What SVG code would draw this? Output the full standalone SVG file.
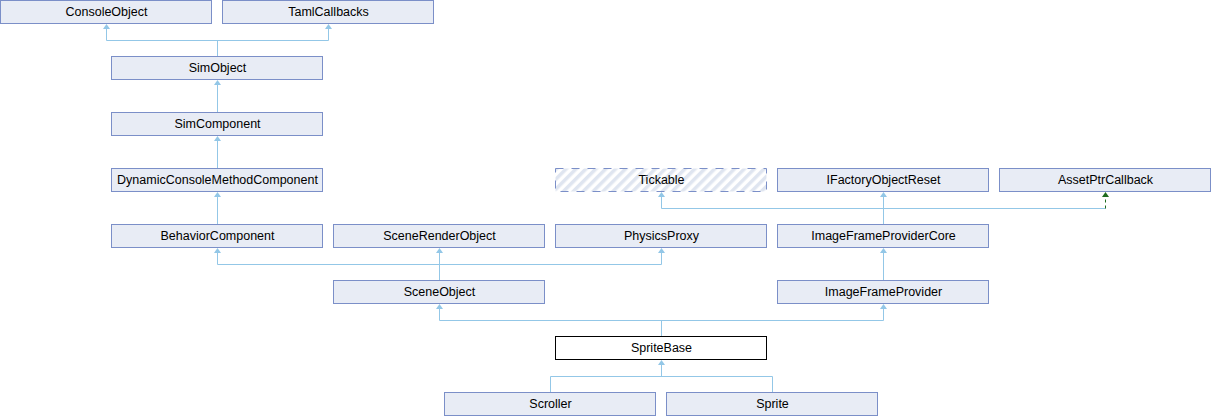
<svg xmlns="http://www.w3.org/2000/svg" width="1211" height="416" viewBox="0 0 1211 416">
<style>
.n rect{fill:#e8ecf5;stroke:#7b8fc8;stroke-width:1}
.n text{font-family:"Liberation Sans",Arial,sans-serif;font-size:12.5px;fill:#000;text-anchor:middle}
#SpriteBase rect{fill:#fff;stroke:#000}
#Tickable rect{fill:url(#hatch);stroke-dasharray:8,8}
.c path{fill:none;stroke:#93c7e7;stroke-width:1}
.c polygon{fill:#93c7e7}
.c .g{stroke:#1e6b1e;stroke-dasharray:3,3}
.c polygon.g{fill:#1e6b1e;stroke:none}
</style>
<defs>
<pattern id="hatch" patternUnits="userSpaceOnUse" width="7" height="7" patternTransform="rotate(45)">
<rect x="0" y="0" width="7" height="7" fill="#fff"/>
<rect x="0" y="0" width="3.5" height="7" fill="#dfe5f0"/>
</pattern>
</defs>
<g id="ConsoleObject" class="n"><rect x="0.5" y="0.5" width="211" height="23"/><text x="106.5" y="15.5">ConsoleObject</text></g>
<g id="TamlCallbacks" class="n"><rect x="222.5" y="0.5" width="211" height="23"/><text x="328.5" y="15.5">TamlCallbacks</text></g>
<g id="SimObject" class="n"><rect x="111.5" y="56.5" width="211" height="23"/><text x="217.5" y="71.5">SimObject</text></g>
<g id="SimComponent" class="n"><rect x="111.5" y="112.5" width="211" height="23"/><text x="217.5" y="127.5">SimComponent</text></g>
<g id="DynamicConsoleMethodComponent" class="n"><rect x="111.5" y="168.5" width="211" height="23"/><text x="217.5" y="183.5">DynamicConsoleMethodComponent</text></g>
<g id="Tickable" class="n"><rect x="555.5" y="168.5" width="211" height="23"/><text x="661.5" y="183.5">Tickable</text></g>
<g id="IFactoryObjectReset" class="n"><rect x="777.5" y="168.5" width="211" height="23"/><text x="883.5" y="183.5">IFactoryObjectReset</text></g>
<g id="AssetPtrCallback" class="n"><rect x="999.5" y="168.5" width="211" height="23"/><text x="1105.5" y="183.5">AssetPtrCallback</text></g>
<g id="BehaviorComponent" class="n"><rect x="111.5" y="224.5" width="211" height="23"/><text x="217.5" y="239.5">BehaviorComponent</text></g>
<g id="SceneRenderObject" class="n"><rect x="333.5" y="224.5" width="211" height="23"/><text x="439.5" y="239.5">SceneRenderObject</text></g>
<g id="PhysicsProxy" class="n"><rect x="555.5" y="224.5" width="211" height="23"/><text x="661.5" y="239.5">PhysicsProxy</text></g>
<g id="ImageFrameProviderCore" class="n"><rect x="777.5" y="224.5" width="211" height="23"/><text x="883.5" y="239.5">ImageFrameProviderCore</text></g>
<g id="SceneObject" class="n"><rect x="333.5" y="280.5" width="211" height="23"/><text x="439.5" y="295.5">SceneObject</text></g>
<g id="ImageFrameProvider" class="n"><rect x="777.5" y="280.5" width="211" height="23"/><text x="883.5" y="295.5">ImageFrameProvider</text></g>
<g id="SpriteBase" class="n"><rect x="555.5" y="336.5" width="211" height="23"/><text x="661.5" y="351.5">SpriteBase</text></g>
<g id="Scroller" class="n"><rect x="444.5" y="392.5" width="211" height="23"/><text x="550.5" y="407.5">Scroller</text></g>
<g id="Sprite" class="n"><rect x="666.5" y="392.5" width="211" height="23"/><text x="772.5" y="407.5">Sprite</text></g>
<g id="connectors" class="c">
<path d="M217.5 56V40.5M106.5 40.5H328.5M106.5 40.5V27M328.5 40.5V27"/>
<polygon points="106.5,24 110,29 103,29"/><polygon points="328.5,24 332,29 325,29"/>
<path d="M217.5 112V83"/><polygon points="217.5,80 221,85 214,85"/>
<path d="M217.5 168V139"/><polygon points="217.5,136 221,141 214,141"/>
<path d="M217.5 224V195"/><polygon points="217.5,192 221,197 214,197"/>
<path d="M439.5 280V251M217.5 264.5H661.5M217.5 264.5V251M661.5 264.5V251"/>
<polygon points="217.5,248 221,253 214,253"/><polygon points="439.5,248 443,253 436,253"/><polygon points="661.5,248 665,253 658,253"/>
<path d="M883.5 224V195M661.5 208.5H1105.5M661.5 208.5V195"/>
<polygon points="661.5,192 665,197 658,197"/><polygon points="883.5,192 887,197 880,197"/>
<path class="g" d="M1105.5 208.5V196"/><polygon class="g" points="1105.5,192 1109,197 1102,197"/>
<path d="M883.5 280V251"/><polygon points="883.5,248 887,253 880,253"/>
<path d="M661.5 336V320.5M439.5 320.5H883.5M439.5 320.5V307M883.5 320.5V307"/>
<polygon points="439.5,304 443,309 436,309"/><polygon points="883.5,304 887,309 880,309"/>
<path d="M550.5 392V376.5M772.5 392V376.5M550.5 376.5H772.5M661.5 376.5V363"/>
<polygon points="661.5,360 665,365 658,365"/>
</g>
</svg>
